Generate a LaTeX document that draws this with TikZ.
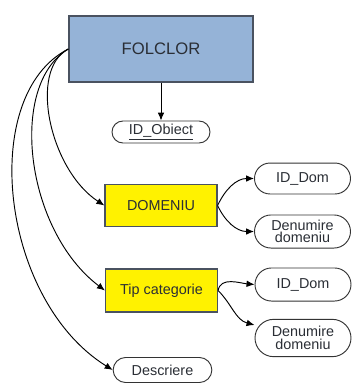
\documentclass[tikz,border=0pt]{standalone}
\usepackage{fontspec}
\setmainfont{Liberation Sans}
\usetikzlibrary{arrows.meta}

\definecolor{entblue}{HTML}{95B3D7}
\definecolor{entline}{HTML}{4A5260}
\definecolor{txtgray}{HTML}{2A2E35}

\tikzset{
  mainent/.style={draw=entline, line width=1pt, fill=entblue, inner sep=0pt,
    minimum width=138pt, minimum height=49.5pt, text=txtgray,
    font=\fontsize{12.5}{14}\selectfont},
  subent/.style={draw=entline, line width=0.9pt, fill=yellow, inner sep=0pt,
    minimum width=84pt, minimum height=31.5pt, text=txtgray,
    font=\fontsize{10.8}{12}\selectfont},
  attr/.style={draw=black!80, line width=0.7pt, rounded corners=#1, inner sep=0pt,
    minimum width=72pt, minimum height=2*#1, align=center, text=txtgray,
    font=\fontsize{10.8}{9.4}\selectfont},
  link/.style={draw=black, line width=0.7pt, -{Latex[length=6pt,width=5pt]}}
}

\begin{document}
\begin{tikzpicture}[x=0.75pt, y=-0.75pt]
  \useasboundingbox (0,0) rectangle (352,383);

  % entity and attribute boxes
  \node[mainent] (folclor) at (161,49) {FOLCLOR};
  \node[attr=8.25pt, minimum width=73.5pt] (idob) at (161,132) {\underline{ID\_Obiect}};
  \node[subent] (domeniu) at (161,205.5) {DOMENIU};
  \node[subent, minimum height=32.25pt] (tip) at (161.5,290.5) {Tip categorie};
  \node[attr=11.6pt] (iddom1) at (302.5,178.5) {ID\_Dom};
  \node[attr=12.4pt] (den1) at (302.5,231.5) {Denumire\\domeniu};
  \node[attr=12.4pt] (iddom2) at (303,284.5) {ID\_Dom};
  \node[attr=14pt] (den2) at (303,338) {Denumire\\domeniu};
  \node[attr=9.4pt, minimum width=74pt] (descr) at (162.5,370) {Descriere};

  % links from the main entity
  \draw[link] (folclor.south) -- (idob.north);
  \draw[link] (folclor.west) .. controls (28,70) and (50,170) .. (domeniu.west);
  \draw[link] (folclor.west) .. controls (8,85) and (25,230) .. (tip.west);
  \draw[link] (folclor.west) .. controls (-22,95) and (0,300) .. (descr.west);

  % links from the sub-entities to their attributes
  \draw[link] (domeniu.east) to[out=65,in=180] (iddom1.west);
  \draw[link] (domeniu.east) to[out=-65,in=180] (den1.west);
  \draw[link] (tip.east) to[out=80,in=175] (iddom2.west);
  \draw[link] (tip.east) to[out=-45,in=165] (den2.165);
\end{tikzpicture}
\end{document}
